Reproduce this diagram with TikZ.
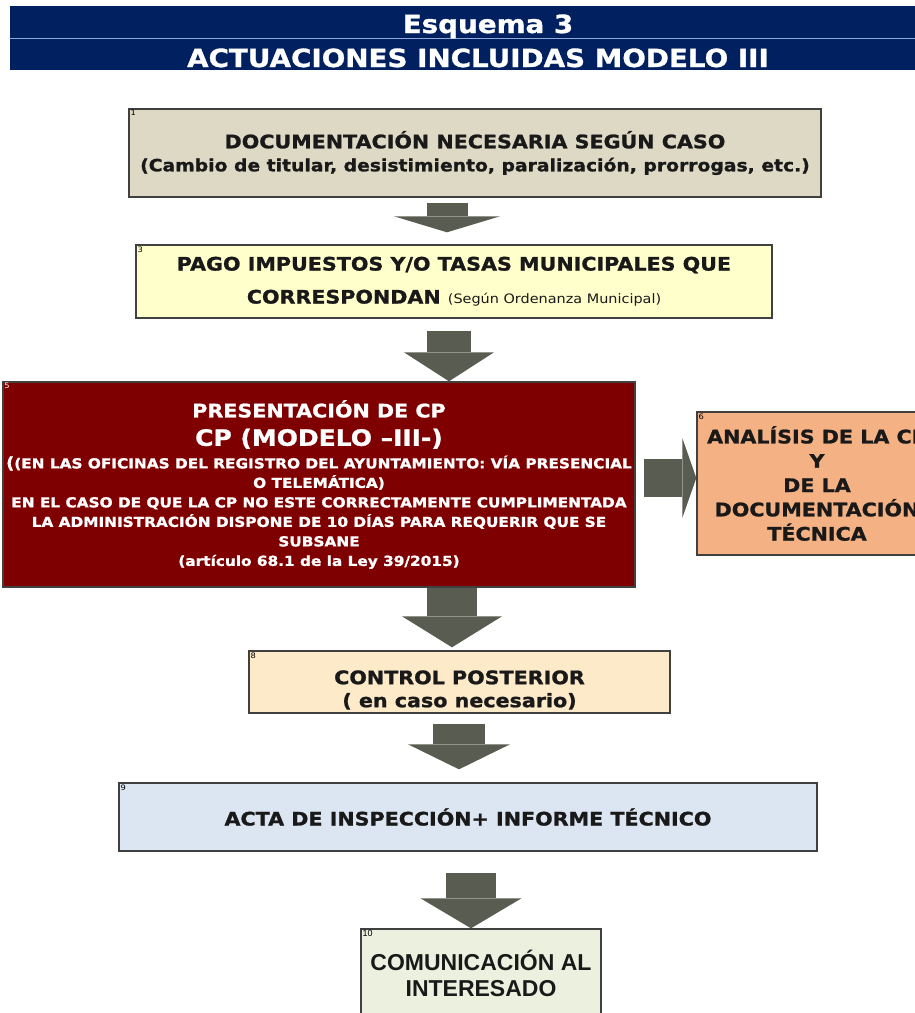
\documentclass[tikz,border=0pt]{standalone}
\usepackage{fontspec}
\setmainfont{DejaVu Sans}[FakeStretch=1.11,BoldFeatures={FakeBold=1.2}]
\newfontfamily\arialbf{Liberation Sans}
\usetikzlibrary{arrows.meta}
\definecolor{navy}{HTML}{002060}
\definecolor{rule}{HTML}{8EA9DB}
\definecolor{docfill}{HTML}{DDD9C4}
\definecolor{pagofill}{HTML}{FFFFCC}
\definecolor{cpfill}{HTML}{7F0000}
\definecolor{anafill}{HTML}{F4B183}
\definecolor{ctrlfill}{HTML}{FDEAC9}
\definecolor{actafill}{HTML}{DCE6F2}
\definecolor{comfill}{HTML}{EBF1DE}
\definecolor{arrowgray}{HTML}{595C50}
\definecolor{edge}{HTML}{404040}
\begin{document}
\begin{tikzpicture}[x=1pt,y=-1pt,
box/.style={draw=edge,line width=1.4pt,inner sep=0pt,align=center,text=black!90},
num/.style={anchor=north west,inner sep=2pt,font=\fontsize{7.5}{8}\selectfont},
head/.style={font=\bfseries\fontsize{18.6}{23}\selectfont}]
\useasboundingbox (0,0) rectangle (915,1013);
%\draw[teal,step=50] (0,0) grid (915,1013);
\fill[navy] (10,6) rectangle (915,70);
\draw[rule,line width=1pt] (10,38) -- (915,38);
\node[anchor=base,text=white,font=\bfseries\fontsize{25}{28}\selectfont] (ttl1) at (488,33) {Esquema 3};
\node[anchor=base,text=white,font=\bfseries\fontsize{25}{28}\selectfont] (ttl2) at (478,67) {ACTUACIONES INCLUIDAS MODELO III};
\node[box,head,fill=docfill,minimum width=692pt,minimum height=88pt,label={[num]north west:1}] (doc) at (475,153)
 {DOCUMENTACIÓN NECESARIA SEGÚN CASO\\{\fontsize{16.9}{23}\selectfont(Cambio de titular, desistimiento, paralización, prorrogas, etc.)}};
\node[box,fill=pagofill,minimum width=636pt,minimum height=73pt,font=\bfseries\fontsize{18.6}{33}\selectfont,label={[num]north west:3}] (pago) at (454,281.5)
 {PAGO IMPUESTOS Y/O TASAS MUNICIPALES QUE\\CORRESPONDAN {\mdseries\fontsize{13}{15}\selectfont(Según Ordenanza Municipal)}};
\node[box,fill=cpfill,text=white,minimum width=632pt,minimum height=205pt,font=\bfseries\fontsize{13.8}{19.5}\selectfont,label={[num,text=white]north west:5}] (cp) at (319,484.5)
 {{\fontsize{18.6}{19.5}\selectfont PRESENTACIÓN DE CP}\\[8.9pt]
 {\fontsize{22.5}{19.5}\selectfont CP (MODELO –III-)}\\[3.1pt]
 {\fontsize{16}{19.5}\selectfont(}(EN LAS OFICINAS DEL REGISTRO DEL AYUNTAMIENTO: VÍA PRESENCIAL\\
 O TELEMÁTICA)\\
 EN EL CASO DE QUE LA CP NO ESTE CORRECTAMENTE CUMPLIMENTADA\\
 LA ADMINISTRACIÓN DISPONE DE 10 DÍAS PARA REQUERIR QUE SE\\
 SUBSANE\\
 (artículo 68.1 de la Ley 39/2015)};
\node[box,fill=anafill,minimum width=240pt,minimum height=143pt,font=\bfseries\fontsize{18.6}{24.3}\selectfont,label={[num]north west:6}] (ana) at (817,483.5)
 {ANALÍSIS DE LA CP\\Y\\DE LA\\DOCUMENTACIÓN\\TÉCNICA};
\node[box,fill=ctrlfill,minimum width=421pt,minimum height=62pt,label={[num]north west:8},
 label={[head,align=center,yshift=-8pt,text=black!90]center:{CONTROL POSTERIOR\\( en caso necesario)}}] (ctrl) at (459.5,682) {};
\node[box,head,fill=actafill,minimum width=698pt,minimum height=68pt,label={[num]north west:9}] (acta) at (468,817)
 {ACTA DE INSPECCIÓN+ INFORME TÉCNICO};
\node[box,fill=comfill,minimum width=240pt,minimum height=89pt,font=\arialbf\bfseries\fontsize{23}{26}\selectfont,
 label={[num,font=\arialbf\fontsize{9}{10}\selectfont]north west:10}] (com) at (481,973.5)
 {COMUNICACIÓN AL\\INTERESADO};
\coordinate (c1) at (447,0); \coordinate (c2) at (449,0); \coordinate (c3) at (452,0);
\coordinate (c4) at (459,0); \coordinate (c5) at (471,0); \coordinate (c6) at (0,478);
\foreach \a/\b/\c/\w/\hw/\hl/\s/\e in {doc/pago/c1/41/106/16/5/12,pago/cp/c2/44/90/29/12/0,
 cp/ctrl/c3/50/100/31/0/3,ctrl/acta/c4/52/102/25/10/13,acta/com/c5/50/101/30/21/0}
\draw[arrowgray,line width=\w pt,-{Triangle[width=\hw pt,length=\hl pt,line width=0pt]},shorten <=\s pt,shorten >=\e pt]
 (\a.south -| \c) -- (\b.north -| \c);
\draw[arrowgray,line width=38pt,-{Triangle[width=80pt,length=14pt,line width=0pt]},shorten <=8pt] (cp.east |- c6) -- (ana.west |- c6);
\end{tikzpicture}
\end{document}
